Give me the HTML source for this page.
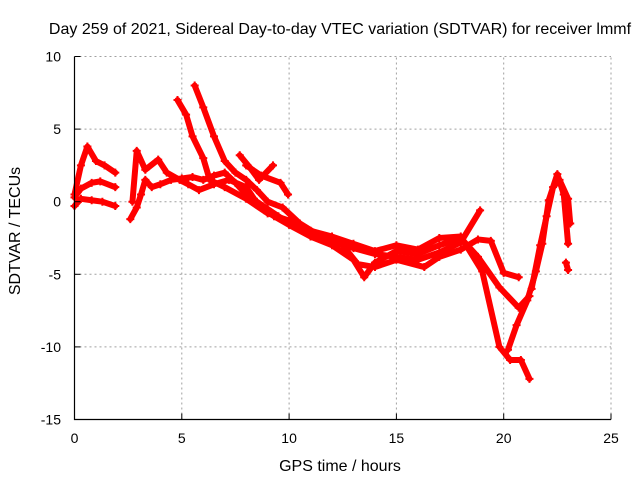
<!DOCTYPE html>
<html><head><meta charset="utf-8"><style>
body{margin:0;background:#fff}
svg{display:block;font-family:"Liberation Sans",sans-serif}
</style></head><body>
<svg id="chart" width="640" height="480" xmlns="http://www.w3.org/2000/svg">
<rect width="640" height="480" fill="#fff"/>
<text x="340" y="34" font-size="16" text-anchor="middle">Day 259 of 2021, Sidereal Day-to-day VTEC variation (SDTVAR) for receiver lmmf</text>
<g id="grid"></g>
<g id="series"></g>
<g id="axes"></g>
<text x="340" y="471" font-size="16" text-anchor="middle">GPS time / hours</text>
<text transform="translate(20,231) rotate(-90)" font-size="16" text-anchor="middle">SDTVAR / TECUs</text>
</svg>
<script>
const xTicks=[0,5,10,15,20,25];
const yTicks=[10,5,0,-5,-10,-15];
const s1=[[0,0.5],[0.3,2.5],[0.6,3.8],[1.0,2.8],[1.4,2.5],[1.9,2.0]];
const s2=[[0,0.3],[0.3,0.9],[0.8,1.3],[1.2,1.4],[1.9,1.0]];
const s3=[[0,-0.3],[0.3,0.2],[0.8,0.1],[1.3,0],[1.9,-0.3]];
const s4=[[2.6,-1.2],[2.9,-0.4],[3.1,0.5],[3.3,1.5],[3.6,1.0],[4.0,1.2],[4.5,1.5],[5.0,1.6],[5.5,1.7],[6.0,1.5],[6.5,1.8],[7.0,2.0],[7.5,1.3],[8,0.5],[8.5,0],[9,-0.5],[9.5,-1.0],[10,-1.5],[11,-2.2],[12,-2.6],[13,-3.2],[14,-3.6],[15,-3.8],[16,-4.0],[17,-3.5],[18,-2.8],[18.9,-0.6]];
const s5=[[2.7,0],[2.9,3.5],[3.3,2.2],[3.9,2.9],[4.3,2.0],[4.9,1.5],[5.3,1.2],[5.8,0.8],[6.5,1.2],[7.2,1.5],[8,1.0],[8.6,-0.3],[9.3,-1.0],[10,-1.6],[11,-2.4],[12,-3.0],[13,-4.0],[13.5,-5.2],[14,-4.2],[15,-3.4],[16,-3.6],[17,-3.0],[18,-2.5],[18.8,-3.8],[19.8,-5.9],[20.7,-7.3],[21.2,-6.5]];
const s6=[[4.8,7.0],[5.2,6.0],[5.5,4.5],[6.0,3.0],[6.3,1.5],[7,1.0],[8,0.2],[9,-0.8],[10,-1.3],[11,-2.0],[12,-2.4],[13,-2.9],[14,-3.4],[15,-3.0],[16,-3.3],[17,-2.5],[18,-2.4],[19,-4.8],[19.8,-10],[20.3,-10.9],[20.8,-10.9],[21.2,-12.2]];
const s7=[[5.6,8.0],[6.0,6.5],[6.5,4.5],[7,2.8],[7.5,2.0],[8,1.5],[8.5,0.8],[9,0],[9.7,-0.4],[10.5,-1.5],[11.6,-2.5],[12.5,-3.0],[13.2,-4.3],[14,-4.5],[15,-4.0],[16.3,-4.5],[17,-3.8],[18,-3.3],[18.8,-2.6],[19.4,-2.7],[20,-4.9],[20.7,-5.2]];
const s8=[[7.7,3.2],[8.2,2.3],[8.6,1.5],[9.25,2.5]];
const s9=[[8,2.5],[8.7,1.8],[9.6,1.3],[9.95,0.5]];
const s10=[[20.2,-10.2],[20.6,-8.5],[21.1,-6.8],[21.5,-4.8],[21.8,-2.9],[22.1,0.1],[22.5,1.9],[22.8,0.5],[23.0,-2.9]];
const s11=[[21.3,-6],[21.7,-3],[22,-1],[22.3,1.0],[22.6,1.5],[23,0.2],[23.1,-1.5]];
const s12=[[22.9,-4.2],[23.0,-4.7]];
const allSeries=[s1,s2,s3,s4,s5,s6,s7,s8,s9,s10,s11,s12];
const X0=74.5,X1=611,Y0=419.5,Y1=56.5;
const xs=v=>X0+(v-0)/25*(X1-X0);
const ys=v=>Y0-(v+15)/25*(Y0-Y1);
const NS="http://www.w3.org/2000/svg";
const grid=document.getElementById('grid'),axes=document.getElementById('axes'),ser=document.getElementById('series');
function mk(t,a,p){const e=document.createElementNS(NS,t);for(const k in a)e.setAttribute(k,a[k]);p.appendChild(e);return e;}
xTicks.forEach(t=>{
 const x=xs(t);
 if(t>0){const g=mk('line',{x1:x,x2:x,y1:Y0,y2:Y1,stroke:'#a0a0a0','stroke-dasharray':'2,3'},grid);
 
 }
 const tk=mk('line',{x1:x,x2:x,y1:Y0,y2:Y0-6,stroke:'#000'},axes);
 
 
 const l=mk('text',{x:x,y:443,'font-size':14,'text-anchor':'middle'},axes);l.textContent=t;
 
 
});
yTicks.forEach(t=>{
 const y=ys(t);
 if(t>-15){const g=mk('line',{x1:X0,x2:X1,y1:y,y2:y,stroke:'#a0a0a0','stroke-dasharray':'2,3'},grid);
 
 }
 const tk=mk('line',{x1:X0,x2:X0+6,y1:y,y2:y,stroke:'#000'},axes);
 
 
 const l=mk('text',{x:61,y:y+5,'font-size':14,'text-anchor':'end'},axes);l.textContent=t;
 
 
});
const ax=mk('path',{d:`M${X0},${Y1}V${Y0}H${X1}`,fill:'none',stroke:'#000','stroke-width':1.2},axes);


allSeries.forEach((s,i)=>{
 const pl=mk('polyline',{points:s.map(p=>xs(p[0])+','+ys(p[1])).join(' '),fill:'none',stroke:'#ff0000','stroke-width':6,'stroke-linejoin':'round','stroke-linecap':'round'},ser);
 
 
 s.forEach(p=>{
  const x=xs(p[0]),y=ys(p[1]);
  const m=mk('path',{d:`M${x-4},${y}H${x+4}M${x},${y-4}V${y+4}`,stroke:'#ff0000','stroke-width':2},ser);
  
  
 });
});
</script>
</body></html>
